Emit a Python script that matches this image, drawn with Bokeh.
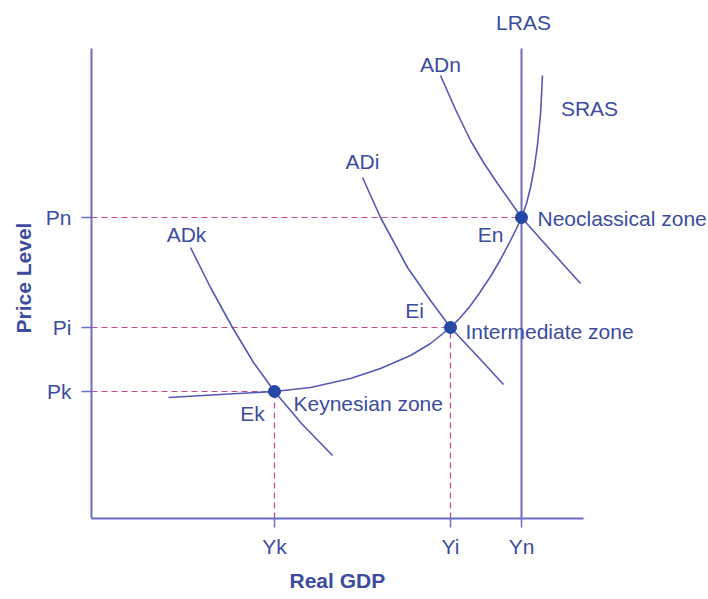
from bokeh.plotting import figure
from bokeh.models import Range1d, FixedTicker, Title
from bokeh.core.properties import value
from bokeh.embed import file_html
from bokeh.resources import INLINE

# ---- data ----
x_tick_vals = [183, 359, 430]
x_tick_labels = ["Yk", "Yi", "Yn"]
y_tick_vals = [127, 191, 301]
y_tick_labels = ["Pk", "Pi", "Pn"]

sras_x = [77, 129, 183, 219, 259, 289, 319, 339, 359, 369, 379, 389, 399, 409, 419, 425, 430, 435, 439, 443, 446, 449, 451]
sras_y = [121, 124, 127, 131, 140, 150, 163, 175, 191, 201, 213, 227, 242, 259, 278, 290, 301, 315, 331, 352, 374, 404, 443]

adk_x = [99, 119, 141, 162, 183, 210, 241]
adk_y = [271, 231, 191, 156, 127, 95, 63]

adi_x = [271, 289, 316, 339, 359, 389, 412]
adi_y = [341, 301, 251, 218, 191, 159, 134]

adn_x = [349, 364, 379, 392, 406, 430, 462, 489]
adn_y = [443, 409, 378, 356, 335, 301, 265, 235]

lras_x = [430, 430]
lras_y = [0, 470]

eq_x = [183, 359, 430]
eq_y = [127, 191, 301]

labels_text = ["LRAS", "SRAS", "ADn", "ADi", "ADk", "En", "Ei", "Ek"]
labels_x = [432, 498, 349, 271, 95, 399, 323, 161]
labels_y = [496, 410, 454, 357, 284, 284, 208, 105]

zone_text = ["Keynesian zone", "Intermediate zone", "Neoclassical zone"]
zone_x = [202, 374, 446]
zone_y = [115, 187, 300]

x_title = "Real GDP"
y_title = "Price Level"

# ---- styles ----
FONT = "Liberation Sans"
TXT = "#3b4c9f"
LINE = "#5558b6"
AXIS = "#6b6cc6"
DASH = "#c54a8e"
DOT = "#2747a6"
FS = "21px"

p = figure(width=708, height=599, x_range=Range1d(0, 617), y_range=Range1d(0, 518),
           output_backend="svg", toolbar_location=None, min_border=0,
           background_fill_color="white", border_fill_color="white")
p.min_border_left = 91
p.min_border_bottom = 81
p.min_border_right = 0
p.min_border_top = 0
p.outline_line_color = None
p.xgrid.visible = False
p.ygrid.visible = False

# axes
p.xaxis.ticker = FixedTicker(ticks=x_tick_vals)
p.xaxis.major_label_overrides = {v: l for v, l in zip(x_tick_vals, x_tick_labels)}
p.yaxis.ticker = FixedTicker(ticks=y_tick_vals)
p.yaxis.major_label_overrides = {v: l for v, l in zip(y_tick_vals, y_tick_labels)}
p.xaxis.bounds = (0, 492)
p.yaxis.bounds = (0, 470)
for ax in (p.xaxis, p.yaxis):
    ax.axis_line_color = AXIS
    ax.axis_line_width = 2
    ax.major_tick_line_color = AXIS
    ax.major_tick_line_width = 1.5
    ax.major_tick_in = 0
    ax.minor_tick_line_color = None
    ax.major_label_text_font = FONT
    ax.major_label_text_font_size = FS
    ax.major_label_text_color = TXT
p.xaxis.major_tick_out = 9
p.yaxis.major_tick_out = 10
p.xaxis.major_label_standoff = 7
p.yaxis.major_label_standoff = 10

# axis titles placed in the side panels
p.add_layout(Title(text=x_title, align="left", offset=198, standoff=12,
                   text_font=FONT, text_font_size=FS, text_font_style="bold",
                   text_color=TXT), "below")
p.add_layout(Title(text=y_title, align="left", offset=185, standoff=16,
                   text_font=FONT, text_font_size=FS, text_font_style="bold",
                   text_color=TXT), "left")

# dashed guide lines
p.segment(x0=[0] * 3, y0=eq_y, x1=eq_x, y1=eq_y, line_color=DASH, line_width=1.2, line_dash="6 4")
p.segment(x0=eq_x[:2], y0=[0] * 2, x1=eq_x[:2], y1=eq_y[:2], line_color=DASH, line_width=1.2, line_dash="6 4")

# curves
p.line(lras_x, lras_y, line_color=AXIS, line_width=2)
p.line(sras_x, sras_y, line_color=LINE, line_width=1.6)
p.line(adk_x, adk_y, line_color=LINE, line_width=1.6)
p.line(adi_x, adi_y, line_color=LINE, line_width=1.6)
p.line(adn_x, adn_y, line_color=LINE, line_width=1.6)

# equilibrium points
p.scatter(eq_x, eq_y, size=12, fill_color=DOT, line_color=DOT)

# labels
p.text(x=labels_x, y=labels_y, text=labels_text, text_font=value(FONT), text_font_size=FS,
       text_color=TXT, text_align="center", text_baseline="middle")
p.text(x=zone_x, y=zone_y, text=zone_text, text_font=value(FONT), text_font_size=FS,
       text_color=TXT, text_align="left", text_baseline="middle")

open("out.html", "w").write(file_html(p, INLINE))
